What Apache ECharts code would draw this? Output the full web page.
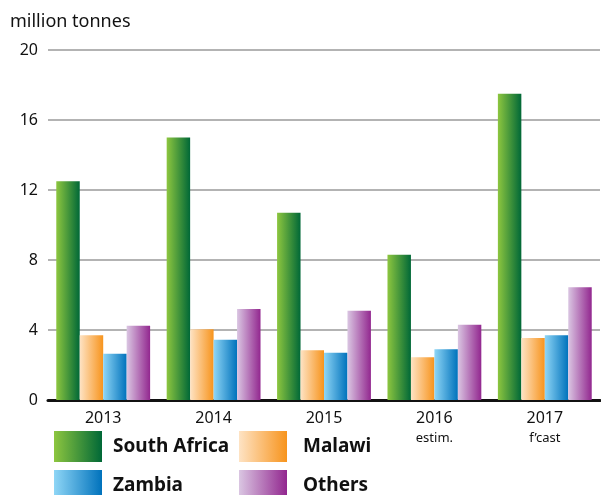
<!DOCTYPE html>
<html><head><meta charset="utf-8">
<script src="https://cdn.jsdelivr.net/npm/echarts@6/dist/echarts.min.js"></script>
<style>html,body{margin:0;padding:0;background:#fff}#c{width:601px;height:495px}</style>
</head><body><div id="c"></div>
<script>
var categories = ['2013', '2014', '2015', '2016', '2017'];
var subLabels = ['', '', '', 'estim.', 'f\u2019cast'];
var southAfrica = [12.5, 15.0, 10.7, 8.3, 17.5];
var malawi = [3.7, 4.05, 2.85, 2.45, 3.55];
var zambia = [2.65, 3.45, 2.7, 2.9, 3.7];
var others = [4.25, 5.2, 5.1, 4.3, 6.45];
var yTicks = [0, 4, 8, 12, 16, 20];

var FONT = '"Noto Sans", sans-serif';
function grad(a, b) {
  return new echarts.graphic.LinearGradient(0, 0, 1, 0, [{offset: 0, color: a}, {offset: 1, color: b}]);
}
var colors = {
  'South Africa': grad('#8dc63f', '#006837'),
  'Malawi': grad('#fee3c4', '#f7941d'),
  'Zambia': grad('#8fd6f6', '#0072bc'),
  'Others': grad('#dac6e2', '#92278f')
};
function mk(name, data) {
  return {name: name, type: 'bar', data: data, barGap: '0%', barCategoryGap: '15%',
    itemStyle: {color: colors[name]}, emphasis: {disabled: true}};
}
var chart = echarts.init(document.getElementById('c'), null, {renderer: 'canvas'});
function lg(name, left, top, pad) {
  return {data: [name], left: left, top: top, itemWidth: 48, itemHeight: 31, itemGap: 0,
    padding: 0, icon: 'rect', selectedMode: false,
    textStyle: {fontFamily: FONT, fontSize: 19, fontWeight: 'bold', color: '#111', padding: [2, 0, 0, pad]}};
}
chart.setOption({
  animation: false,
  grid: {left: 48, right: 1, top: 50, bottom: 95, containLabel: false},
  xAxis: {
    type: 'category', data: categories,
    axisLine: {lineStyle: {color: '#111', width: 3}},
    axisTick: {show: false},
    axisLabel: {
      margin: 8, interval: 0,
      formatter: function (v, i) {
        return subLabels[i] ? '{a|' + v + '}\n{b|' + subLabels[i] + '}' : '{a|' + v + '}';
      },
      rich: {
        a: {fontFamily: FONT, fontSize: 16, color: '#111', lineHeight: 20},
        b: {fontFamily: FONT, fontSize: 13, color: '#111', lineHeight: 20}
      }
    }
  },
  yAxis: {
    type: 'value', min: yTicks[0], max: yTicks[yTicks.length - 1], interval: 4,
    axisLine: {show: false}, axisTick: {show: false},
    axisLabel: {fontFamily: FONT, fontSize: 16, color: '#111', margin: 10},
    splitLine: {lineStyle: {color: '#9a9a9a', width: 1.5}}
  },
  legend: [
    lg('South Africa', 54, 431, 6), lg('Malawi', 239, 431, 11),
    lg('Zambia', 54, 470, 6), lg('Others', 239, 470, 11)
  ],
  graphic: [{type: 'text', left: 10, top: 13,
    style: {text: 'million tonnes', fontFamily: FONT, fontSize: 18, fill: '#111'}}],
  series: [mk('South Africa', southAfrica), mk('Malawi', malawi), mk('Zambia', zambia), mk('Others', others)]
});
</script></body></html>
